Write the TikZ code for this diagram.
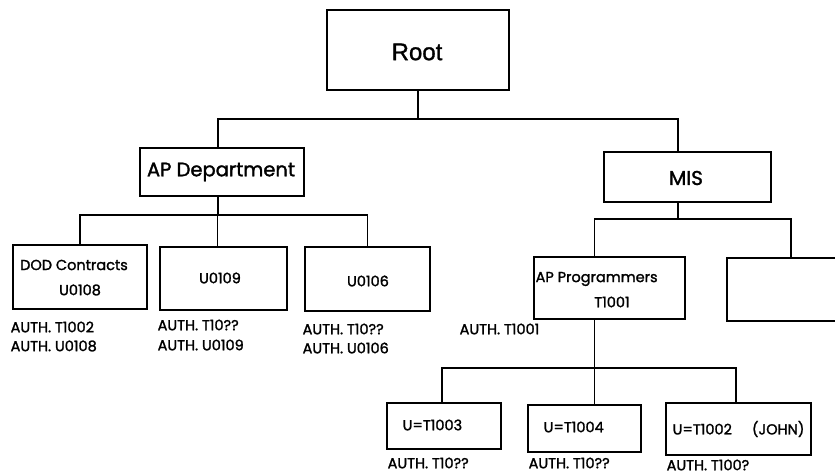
\documentclass[tikz,border=0pt]{standalone}
\usepackage{fontspec}
\setmainfont{Poppins}[FakeBold=1.6]
\newfontfamily\heavysans{Liberation Sans}[FakeBold=1.2]
\usetikzlibrary{positioning}

\begin{document}
\begin{tikzpicture}[x=1pt,y=-1pt,
  line width=1.3pt,
  box/.style={draw,rectangle,inner sep=0pt,outer sep=0pt},
  lbl/.style={anchor=west,inner sep=0pt,font=\fontsize{14.5}{16}\selectfont},
  txt/.style={inner sep=0pt,font=\fontsize{14.5}{16}\selectfont}]
\useasboundingbox (0,0) rectangle (835,476);

% ---- boxes ----
\node[box,minimum width=182pt,minimum height=80pt] (root) at (418,50) {};
\node[box,minimum width=164pt,minimum height=48pt] (apd)  at (222,172) {};
\node[box,minimum width=167pt,minimum height=50pt] (mis)  at (687.5,177) {};

\node[box,minimum width=134pt,minimum height=64pt] (dod)   at (80,277) {};
\node[box,minimum width=127pt,minimum height=63pt] (u109)  at (223.5,278.5) {};
\node[box,minimum width=125pt,minimum height=64pt] (u106)  at (367.5,279) {};

\node[box,minimum width=151pt,minimum height=62pt] (aprog) at (609.5,288) {};
\node[box,minimum width=128pt,minimum height=63pt] (blank) at (791,289.5) {};

\node[box,minimum width=114pt,minimum height=46pt] (t1003) at (444,426) {};
\node[box,minimum width=113pt,minimum height=47pt] (t1004) at (584.5,428.5) {};
\node[box,minimum width=145pt,minimum height=52pt] (t1002) at (738.5,429) {};

% ---- box texts ----
\node[inner sep=0pt,font=\heavysans\fontsize{24}{26}\selectfont] (roottxt) at (417,52) {Root};
\node[inner sep=0pt,font=\fontsize{19.5}{22}\selectfont] (apdtxt) at (221,172) {AP Department};
\node[inner sep=0pt,font=\fontsize{20}{22}\selectfont] (mistxt) at (686,178) {MIS};

\node[txt] (dodtxt)  at (74,265) {DOD Contracts};
\node[txt] (dodid)   at (80,290) {U0108};
\node[txt] (u109txt) at (220,278) {U0109};
\node[txt] (u106txt) at (368,281) {U0106};

\node[lbl] (aptxt) at (535,279) {AP Programmers};
\node[txt] (apid)  at (612,302) {T1001};

\node[lbl] (t1003txt) at (402,425) {U=T1003};
\node[lbl] (t1004txt) at (543,427) {U=T1004};
\node[lbl] (t1002txt) at (672,429) {U=T1002\hspace{20pt}(JOHN)};

% ---- authorisation labels ----
\node[lbl] (a1) at (10,327) {AUTH. T1002};
\node[lbl] (a2) at (10,346) {AUTH. U0108};
\node[lbl] (a3) at (157,325) {AUTH. T10??};
\node[lbl] (a4) at (157,345) {AUTH. U0109};
\node[lbl] (a5) at (302,329) {AUTH. T10??};
\node[lbl] (a6) at (302,348) {AUTH. U0106};
\node[lbl] (a7) at (459,329) {AUTH. T1001};
\node[lbl] (a8) at (387,463) {AUTH. T10??};
\node[lbl] (a9) at (528,463) {AUTH. T10??};
\node[lbl] (a10) at (666,465) {AUTH. T100?};

% ---- connectors ----
\coordinate (misTop) at ([xshift=-9.5pt]mis.north);
\coordinate (misBot) at ([xshift=-9.5pt]mis.south);
\coordinate (apdTop) at ([xshift=-4pt]apd.north);
\coordinate (apdBot) at ([xshift=-4pt]apd.south);
\coordinate (apTop)  at ([xshift=-15pt]aprog.north);
\coordinate (apBot)  at ([xshift=-15pt]aprog.south);
\coordinate (u109Top) at ([xshift=-6pt]u109.north);

\draw (root.south) -- ++(0,29) coordinate (bus0);
\draw (apdTop) |- (bus0) -| (misTop);

\draw (apdBot) -- ++(0,19) coordinate (bus1);
\draw (dod.north) |- (bus1) -| (u106.north);
\draw (u109Top) -- (u109Top |- bus1);

\draw (misBot) -- ++(0,17) coordinate (bus2);
\draw (apTop) |- (bus2) -| (blank.north);

\draw (apBot) -- ++(0,49) coordinate (bus3);
\draw ([xshift=-2pt]t1003.north) |- (bus3) -| ([xshift=-2.5pt]t1002.north);
\draw (apBot |- t1004.north) -- (bus3);
\end{tikzpicture}
\end{document}
